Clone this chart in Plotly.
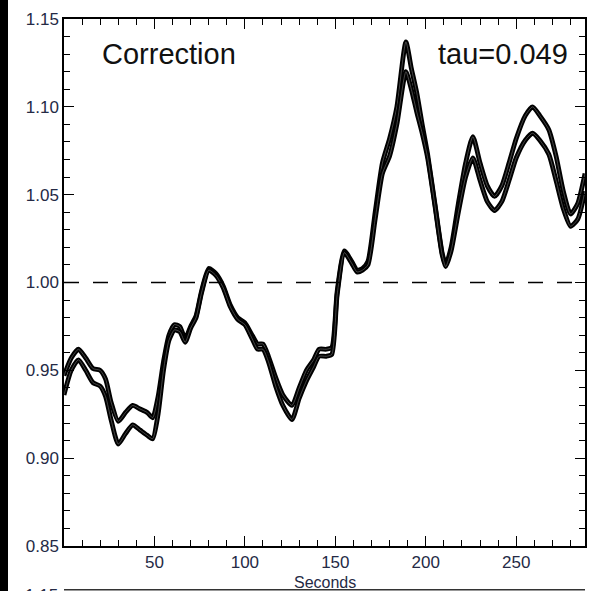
import plotly.graph_objects as go

# Time axis (seconds) and the two correction curves
seconds = [0, 4, 8, 12, 16, 20, 23, 26, 30, 34, 38, 42, 46, 49, 52, 55, 58, 61, 64,
           67, 70, 73, 76, 80, 84, 88, 92, 96, 100, 104, 107, 110, 113, 117, 121, 126,
           130, 134, 138, 141, 145, 148, 151, 155, 159, 162, 165, 168, 172, 176, 180,
           184, 189, 192, 195, 198, 201, 205, 209, 211, 214, 218, 222, 226, 230, 234,
           238, 242, 246, 250, 255, 259, 263, 268, 272, 276, 280, 284, 288]

corr_upper = [0.947, 0.957, 0.962, 0.957, 0.951, 0.950, 0.945, 0.932, 0.921, 0.926,
              0.930, 0.928, 0.926, 0.923, 0.935, 0.955, 0.970, 0.976, 0.975, 0.968,
              0.975, 0.981, 0.995, 1.008, 1.005, 0.998, 0.987, 0.980, 0.977, 0.970,
              0.965, 0.965, 0.958, 0.946, 0.936, 0.930, 0.940, 0.950, 0.956, 0.962,
              0.962, 0.963, 0.995, 1.018, 1.012, 1.007, 1.008, 1.012, 1.040, 1.068,
              1.082, 1.100, 1.137, 1.122, 1.108, 1.090, 1.073, 1.045, 1.017, 1.010,
              1.020, 1.045, 1.068, 1.083, 1.068, 1.055, 1.049, 1.055, 1.068, 1.082,
              1.095, 1.100, 1.095, 1.087, 1.072, 1.052, 1.039, 1.045, 1.062]

corr_lower = [0.936, 0.950, 0.956, 0.950, 0.943, 0.941, 0.935, 0.922, 0.908, 0.914,
              0.919, 0.916, 0.913, 0.911, 0.925, 0.950, 0.967, 0.973, 0.972, 0.966,
              0.974, 0.980, 0.994, 1.007, 1.004, 0.997, 0.986, 0.979, 0.976, 0.968,
              0.962, 0.962, 0.955, 0.941, 0.930, 0.922, 0.934, 0.944, 0.952, 0.958,
              0.958, 0.959, 0.993, 1.017, 1.011, 1.006, 1.007, 1.010, 1.036, 1.062,
              1.072, 1.090, 1.120, 1.110, 1.097, 1.085, 1.071, 1.044, 1.016, 1.009,
              1.018, 1.040, 1.060, 1.071, 1.058, 1.046, 1.041, 1.046, 1.058, 1.071,
              1.081, 1.085, 1.081, 1.073, 1.058, 1.042, 1.032, 1.036, 1.052]

x_tick_vals = [50, 100, 150, 200, 250]
y_tick_vals = [0.85, 0.90, 0.95, 1.00, 1.05, 1.10, 1.15]
reference_level = 1.0

label_color = "#252a45"
font_family = "Liberation Sans, Arial, sans-serif"

fig = go.Figure()

for series in (corr_upper, corr_lower):
    # dark band
    fig.add_trace(go.Scatter(x=seconds, y=series, mode="lines",
                             line=dict(color="black", width=4.8, shape="spline", smoothing=0.6),
                             hoverinfo="skip", showlegend=False))
    # faint inner strand
    fig.add_trace(go.Scatter(x=seconds, y=series, mode="lines",
                             line=dict(color="rgba(140,140,140,0.7)", width=0.7,
                                       shape="spline", smoothing=0.6),
                             hoverinfo="skip", showlegend=False))

fig.add_hline(y=reference_level, line=dict(color="black", width=1.4, dash="15px,14px"))

axis_common = dict(
    showgrid=False, zeroline=False,
    showline=True, linecolor="black", linewidth=1.5, mirror="allticks",
    ticks="inside", ticklen=10, tickwidth=1.3, tickcolor="black",
    tickfont=dict(family=font_family, size=17, color=label_color),
)

fig.update_xaxes(range=[0, 288], tickmode="array", tickvals=x_tick_vals,
                 minor=dict(tickmode="linear", tick0=0, dtick=10, ticks="inside",
                            ticklen=6, tickwidth=1.2, tickcolor="black"),
                 **axis_common)
fig.update_yaxes(range=[0.85, 1.15], tickmode="array", tickvals=y_tick_vals,
                 tickformat=".2f",
                 minor=dict(tickmode="linear", tick0=0.85, dtick=0.01, ticks="inside",
                            ticklen=6, tickwidth=1.2, tickcolor="black"),
                 **axis_common)

annotations = [
    dict(text="Correction", x=0.069, y=0.934, xref="paper", yref="paper",
         xanchor="left", yanchor="middle", showarrow=False,
         font=dict(family=font_family, size=29, color="#111111")),
    dict(text="tau=0.049", x=0.972, y=0.934, xref="paper", yref="paper",
         xanchor="right", yanchor="middle", showarrow=False,
         font=dict(family=font_family, size=29, color="#111111")),
    dict(text="Seconds", x=0.5, y=-0.07, xref="paper", yref="paper",
         xanchor="center", yanchor="middle", showarrow=False,
         font=dict(family=font_family, size=16, color=label_color)),
    # top label of the panel below
    dict(text="1.15", x=-0.008, y=-0.093, xref="paper", yref="paper",
         xanchor="right", yanchor="middle", showarrow=False,
         font=dict(family=font_family, size=17, color=label_color)),
    # dark strip on the left page edge
    dict(text=" ", x=-0.1224, y=0.45, xref="paper", yref="paper",
         xanchor="left", yanchor="middle", showarrow=False,
         width=8, height=700, bgcolor="black", borderpad=0, borderwidth=0,
         font=dict(size=4)),
]

shapes = [
    dict(type="rect", xref="paper", yref="paper", x0=-0.1224, x1=-0.108,
         y0=-0.2, y1=1.1, fillcolor="black", line=dict(width=0), layer="above"),
    # top frame of the panel below
    dict(type="line", xref="paper", yref="paper", x0=0, x1=1, y0=-0.083, y1=-0.083,
         line=dict(color="#333333", width=1.5)),
]

fig.update_layout(
    width=597, height=591,
    margin=dict(l=64, r=10, t=10, b=45),
    plot_bgcolor="white", paper_bgcolor="white",
    annotations=annotations, shapes=shapes,
    showlegend=False,
)

fig.write_html("out.html")
